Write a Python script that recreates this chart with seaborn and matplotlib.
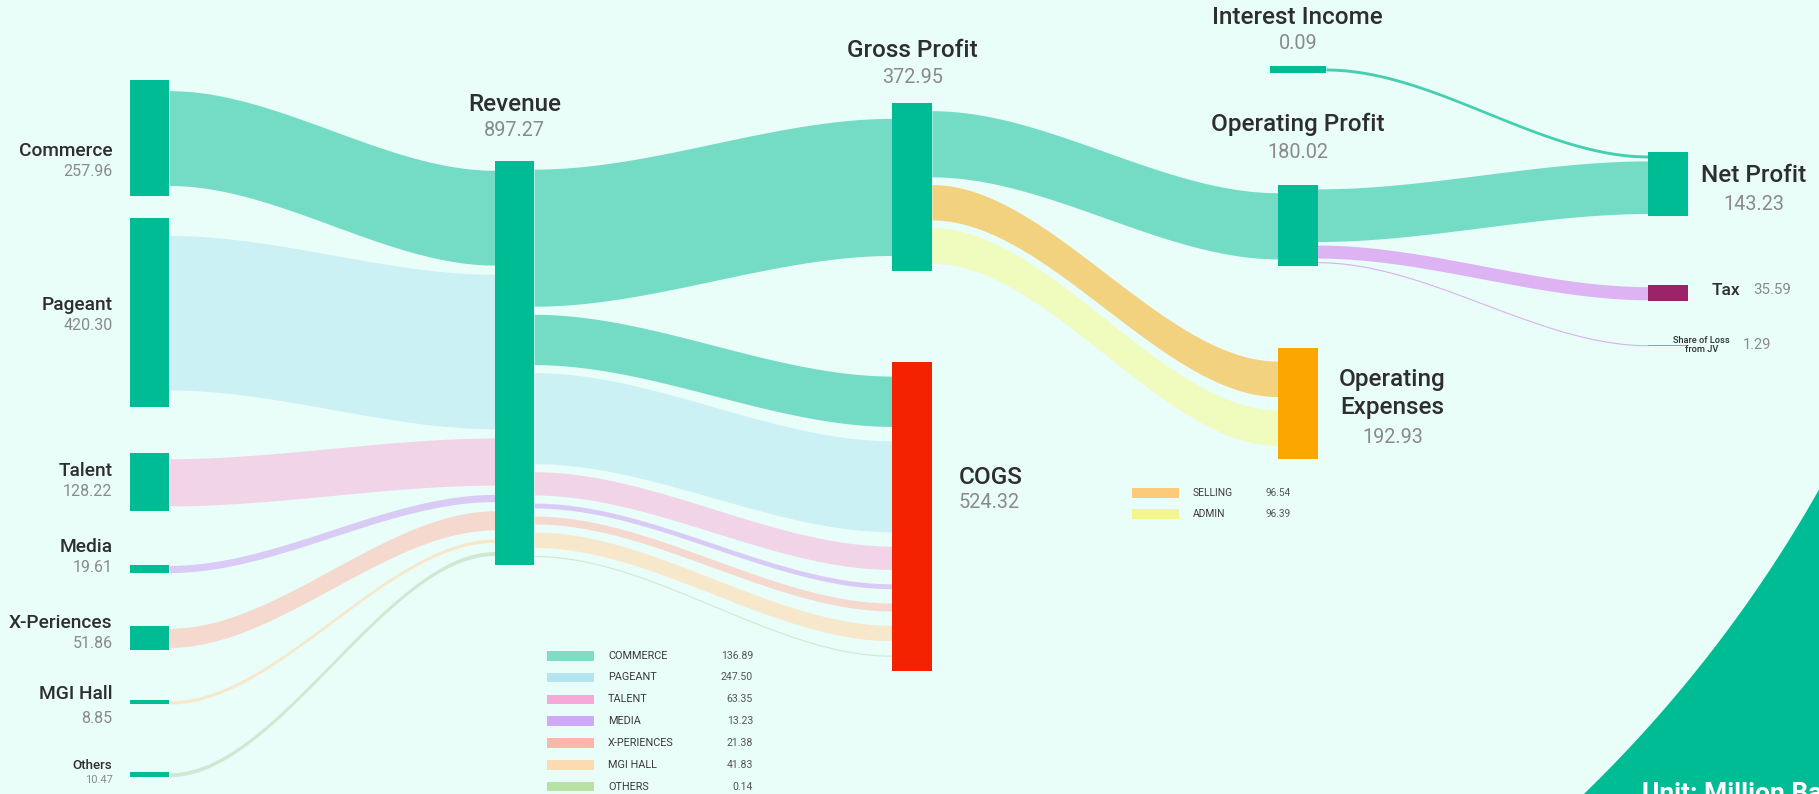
import numpy as np
import matplotlib
matplotlib.use('Agg')
import matplotlib.pyplot as plt
from matplotlib.patches import Rectangle, Polygon
import seaborn as sns

# values in million baht
segments = ['Commerce', 'Pageant', 'Talent', 'Media', 'X-Periences', 'MGI Hall', 'Others']
segment_revenue = [257.96, 420.30, 128.22, 19.61, 51.86, 8.85, 10.47]
cogs_labels = ['COMMERCE', 'PAGEANT', 'TALENT', 'MEDIA', 'X-PERIENCES', 'MGI HALL', 'OTHERS']
segment_cogs = [136.89, 247.50, 63.35, 13.23, 21.38, 41.83, 0.14]
opex_labels = ['SELLING', 'ADMIN']
opex_values = [96.54, 96.39]
revenue = 897.27
gross_profit = 372.95
cogs = 524.32
operating_profit = 180.02
operating_expenses = 192.93
interest_income = 0.09
net_profit = 143.23
tax = 35.59
share_of_loss = 1.29

# colours
bg = '#E9FDF9'
teal = '#00BC94'
seg_band = ['#74DCC5', '#CBF1F4', '#F1D4E8', '#DACBF6', '#F5D8CE', '#F7E8CC', '#CDE9D2']
seg_legend = ['#7FDDC5', '#B4E4EF', '#F6A8D8', '#CFAAF4', '#FAB6A8', '#FCDAB2', '#B6E3A1']
opex_band = ['#F3D27F', '#F0FBBE']
opex_legend = ['#FBCA7B', '#F3F68A']
name_c = '#2E2E2E'
value_c = '#8A8A8A'

# layout: x in columns, y in million baht from the top
col_x = [0, 0.961, 2.009, 3.025, 4]
half_w = 0.052
band_k = 0.817
seg_top = [178, 485, 1008, 1255, 1392, 1557, 1717]
seg_label_dy = [(-9.6, -24), (5.5, -9), (8.4, -6.6), (16, 1), (11, -4), (6, -11.5), (6.7, -4)]

sns.set_theme(style='white')
plt.rcParams['font.family'] = ['Roboto', 'DejaVu Sans']

fig = plt.figure(figsize=(18.19, 7.94), dpi=100, facecolor=bg)

# background decoration + legends, in pixel coordinates
deco = fig.add_axes([0, 0, 1, 1], zorder=0)
deco.set_xlim(0, 1819)
deco.set_ylim(794, 0)
deco.set_facecolor(bg)
deco.axis('off')
cx, cy, r = 648, -172, 1345
a0 = np.arccos((1819 - cx) / r)
a1 = np.arcsin((794 - cy) / r)
ang = np.linspace(a0, a1, 200)
arc = np.column_stack([cx + r * np.cos(ang), cy + r * np.sin(ang)])
deco.add_patch(Polygon(np.vstack([arc, [[1819, 794]]]), closed=True, color=teal, lw=0))
deco.text(1642, 782, 'Unit: Million Baht', color='white', fontsize=19, fontweight='bold',
          ha='left', va='top')

for i, (lab, v, c) in enumerate(zip(cogs_labels, segment_cogs, seg_legend)):
    y = 655.7 + 21.8 * i
    deco.add_patch(Rectangle((547, y - 4.8), 47, 9.6, color=c, lw=0))
    deco.text(608, y, lab, fontsize=7.8, color='#3A3A3A', va='center')
    deco.text(753, y, f'{v:.2f}', fontsize=7.6, color='#555555', va='center', ha='right')
for i, (lab, v, c) in enumerate(zip(opex_labels, opex_values, opex_legend)):
    y = 492.7 + 21.5 * i
    deco.add_patch(Rectangle((1132, y - 4.8), 47, 9.6, color=c, lw=0))
    deco.text(1193, y, lab, fontsize=7.4, color='#3A3A3A', va='center')
    deco.text(1291, y, f'{v:.2f}', fontsize=7.2, color='#555555', va='center', ha='right')

# sankey axes
ax = fig.add_axes([0, 0, 1, 1], zorder=1)
ax.set_xlim(-0.394, 4.398)
ax.set_ylim(1765, 0)
ax.patch.set_alpha(0)
ax.axis('off')

nodes = {}


def add_node(name, col, top, value, color, stretch=1.0, min_h=2.0, hw=half_w):
    nodes[name] = dict(x=col_x[col], top=top, h=max(value * stretch, min_h),
                       color=color, hw=hw, value=value)


for s, v, t in zip(segments, segment_revenue, seg_top):
    add_node(s, 0, t, v, teal)
add_node('Revenue', 1, 358, revenue, teal)
add_node('Gross Profit', 2, 229, gross_profit, teal)
add_node('COGS', 2, 804, cogs, '#F52200', stretch=1.31)
add_node('Interest Income', 3, 147, interest_income, teal, min_h=15, hw=0.074)
add_node('Operating Profit', 3, 412, operating_profit, teal)
add_node('Operating Expenses', 3, 773, operating_expenses, '#FBA700', stretch=1.28)
add_node('Net Profit', 4, 338, net_profit, teal)
add_node('Tax', 4, 634, tax, '#9A2467')
add_node('Share of Loss', 4, 766, share_of_loss, '#B28DBA', min_h=3)

flows = []
for s, v, c in zip(segments, segment_revenue, seg_band):
    flows.append((s, 'Revenue', v, c))
flows.append(('Revenue', 'Gross Profit', gross_profit, seg_band[0]))
for v, c in zip(segment_cogs, seg_band):
    flows.append(('Revenue', 'COGS', v, c))
flows.append(('Gross Profit', 'Operating Profit', operating_profit, seg_band[0]))
for v, c in zip(opex_values, opex_band):
    flows.append(('Gross Profit', 'Operating Expenses', v, c))
flows.append(('Interest Income', 'Net Profit', interest_income, '#45CFB0'))
flows.append(('Operating Profit', 'Net Profit', net_profit - interest_income, seg_band[0]))
flows.append(('Operating Profit', 'Tax', tax, '#DDB3F4'))
flows.append(('Operating Profit', 'Share of Loss', share_of_loss, '#D9B0EE'))
band_min = {'Interest Income': 6.5}


def spread(name, side):
    k = 0 if side == 'out' else 1
    idx = [i for i, f in enumerate(flows) if f[k] == name]
    ws = [max(flows[i][2] * band_k, band_min.get(flows[i][0], 2.5)) for i in idx]
    n = nodes[name]
    gap = (n['h'] - sum(ws)) / (len(ws) + 1)
    pos = {}
    y = n['top'] + gap
    for i, w in zip(idx, ws):
        pos[i] = (y, y + w)
        y += w + gap
    return pos


out_pos, in_pos = {}, {}
for name in nodes:
    out_pos.update(spread(name, 'out'))
    in_pos.update(spread(name, 'in'))

for i, (src, tgt, v, c) in enumerate(flows):
    s, t = nodes[src], nodes[tgt]
    x0, x1 = s['x'] + s['hw'], t['x'] - t['hw']
    xs = np.linspace(x0, x1, 200)
    u = (xs - x0) / (x1 - x0)
    e = u * u * (3 - 2 * u)
    (a0_, b0_), (a1_, b1_) = out_pos[i], in_pos[i]
    ax.fill_between(xs, a0_ + (a1_ - a0_) * e, b0_ + (b1_ - b0_) * e, color=c, lw=0, zorder=1)

for name, n in nodes.items():
    ax.bar(n['x'], n['h'], bottom=n['top'], width=2 * n['hw'], color=n['color'], lw=0, zorder=3)


def label(name, text, dx, dy, size, color, ha='center', anchor='center', weight='normal', **kw):
    n = nodes[name]
    xa = {'left': n['x'] - n['hw'], 'center': n['x'], 'right': n['x'] + n['hw']}
    ya = n['top'] + n['h'] / 2
    if kw.pop('at_top', False):
        ya = n['top']
    ax.annotate(text, xy=(xa[anchor], ya), xytext=(dx, dy), textcoords='offset points',
                ha=ha, va='center', fontsize=size, color=color, fontweight=weight, **kw)


for s, v, (dn, dv) in zip(segments, segment_revenue, seg_label_dy):
    small = s == 'Others'
    label(s, s, -12.5, dn, 9.5 if small else 13.8, name_c, ha='right', anchor='left', weight='medium')
    label(s, f'{v:.2f}', -12.5, dv, 8 if small else 11.5, value_c, ha='right', anchor='left')

top_labels = [('Revenue', revenue, 41, 22), ('Gross Profit', gross_profit, 37.5, 18.7),
              ('Interest Income', interest_income, 35, 16), ('Operating Profit', operating_profit, 43.6, 24)]
for name, v, dn, dv in top_labels:
    label(name, name, 0, dn, 17.5, name_c, weight='medium', at_top=True)
    label(name, f'{v:.2f}', 0, dv, 14.3, value_c, at_top=True)

label('COGS', 'COGS', 19.4, 28, 17.5, name_c, ha='left', anchor='right', weight='medium')
label('COGS', f'{cogs:.2f}', 19.4, 10, 14.3, value_c, ha='left', anchor='right')
label('Operating Expenses', 'Operating\nExpenses', 54, 7, 17.5, name_c, anchor='right',
      weight='medium', multialignment='center', linespacing=1.25)
label('Operating Expenses', f'{operating_expenses:.2f}', 54, -24.5, 14.3, value_c, anchor='right')
label('Net Profit', 'Net Profit', 47.5, 6, 17.5, name_c, anchor='right', weight='medium')
label('Net Profit', f'{net_profit:.2f}', 47.5, -14.3, 14.3, value_c, anchor='right')
label('Tax', 'Tax', 17, 2, 12.5, name_c, ha='left', anchor='right', weight='medium')
label('Tax', f'{tax:.2f}', 47.5, 2, 10.8, value_c, ha='left', anchor='right')
label('Share of Loss', 'Share of Loss\nfrom JV', 10, 0, 6.7, name_c, anchor='right',
      weight='medium', multialignment='center', linespacing=0.95)
label('Share of Loss', f'{share_of_loss:.2f}', 40, 0, 10.5, value_c, ha='left', anchor='right')

fig.savefig('out.png', dpi=100, facecolor=bg)
